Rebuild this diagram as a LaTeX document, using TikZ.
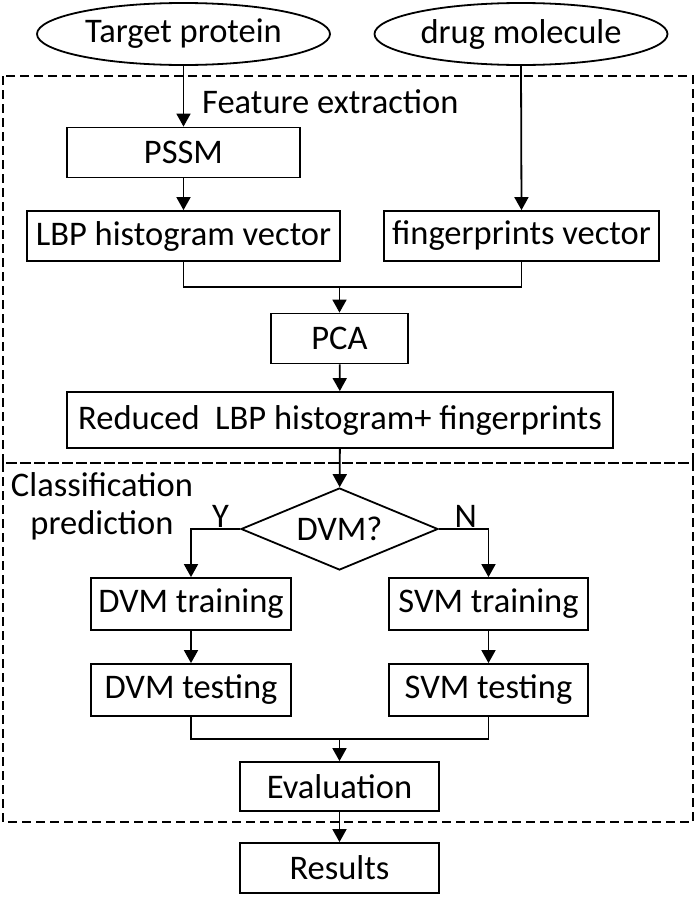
\documentclass[tikz,border=0pt]{standalone}
\usepackage{fontspec}
\setmainfont{Carlito}
\usetikzlibrary{shapes.geometric,arrows.meta}
\tikzset{flow box/.style={draw=black, rectangle, line width=1.8pt, minimum height=50pt, inner sep=0pt}}
\tikzset{input ellipse/.style={draw=black, ellipse, line width=1.8pt, minimum width=293pt, minimum height=62pt, inner sep=0pt}}
\tikzset{decision/.style={draw=black, diamond, aspect=2.4, line width=1.8pt, minimum width=197pt, minimum height=82pt, inner sep=0pt}}
\tikzset{stage frame/.style={draw=black, line width=1.8pt, dash pattern=on 9pt off 5pt}}
\tikzset{flow/.style={line width=1.8pt, -{Triangle[length=13pt,width=14pt]}}}

\begin{document}
\begin{tikzpicture}[x=1pt, y=-1pt, font=\fontsize{34.5}{38}\selectfont]
\useasboundingbox (0,0) rectangle (697,897);
% dashed stages
\draw[stage frame] (3,76) rectangle (693,463);
\draw[stage frame] (3,463) rectangle (693,822);
\node[anchor=base west, inner sep=0pt] (fe) at (202,113) {Feature extraction};
\node[align=center] (cp) at (102,506) {Classification\\prediction};
% inputs
\node[input ellipse] (target) at (183.5,34) {Target protein};
\node[input ellipse] (drug) at (521,34) {drug molecule};
% feature extraction
\node[flow box, minimum width=233pt] (pssm) at (183.5,152.5) {PSSM};
\node[flow box, minimum width=313pt] (lbp) at (183.5,236) {LBP histogram vector};
\node[flow box, minimum width=275pt] (fp) at (521.5,236) {fingerprints vector};
\node[flow box, minimum width=137pt] (pca) at (339.5,338.5) {PCA};
\node[flow box, minimum width=546pt, minimum height=56pt] (red) at (340,420) {Reduced~ LBP histogram+ fingerprints};
% classification
\node[decision] (dvm) at (339.5,529) {DVM?};
\node[flow box, minimum width=200pt, minimum height=52pt] (dtrain) at (191,604) {DVM training};
\node[flow box, minimum width=199pt, minimum height=52pt] (strain) at (488.5,604) {SVM training};
\node[flow box, minimum width=200pt, minimum height=52pt] (dtest) at (191,690) {DVM testing};
\node[flow box, minimum width=199pt, minimum height=52pt] (stest) at (488.5,690) {SVM testing};
\node[flow box, minimum width=199pt, minimum height=49pt] (eval) at (339.5,786.5) {Evaluation};
\node[flow box, minimum width=199pt] (res) at (339.5,868) {Results};
\coordinate (join1) at (339.5,287);
\coordinate (join2) at (339.5,739);
% connectors
\draw[flow] (target) -- (pssm);
\draw[flow] (pssm) -- (lbp);
\draw[flow] (drug.south) -- (fp.north);
\draw[line width=1.8pt] (lbp.south) |- (join1) -| (fp.south);
\draw[flow] (join1) -- (pca);
\draw[flow] (pca) -- (red);
\draw[flow] (red) -- (dvm);
\draw[flow] (dvm.west) -| node[pos=0.2, above, inner sep=1pt] {Y} (dtrain.north);
\draw[flow] (dvm.east) -| node[pos=0.27, above, inner sep=1pt] {N} (strain.north);
\draw[flow] (dtrain) -- (dtest);
\draw[flow] (strain) -- (stest);
\draw[line width=1.8pt] (dtest.south) |- (join2) -| (stest.south);
\draw[flow] (join2) -- (eval);
\draw[flow] (eval) -- (res);
\end{tikzpicture}
\end{document}
